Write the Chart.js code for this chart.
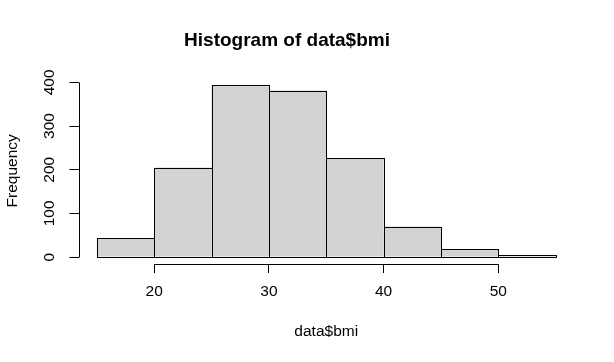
<!DOCTYPE html>
<html>
<head>
<meta charset="utf-8">
<style>
  html, body { margin: 0; padding: 0; background: #fff; }
  canvas { display: block; }
</style>
<script src="https://cdn.jsdelivr.net/npm/chart.js@4/dist/chart.umd.min.js"></script>
</head>
<body>
<canvas id="hist" width="614" height="362"></canvas>
<script>
// histogram of data$bmi, bins of width 5
const binEdges = [15, 20, 25, 30, 35, 40, 45, 50, 55];
const counts = [43, 205, 394, 381, 226, 70, 18, 4];
const xTicks = [20, 30, 40, 50];
const yTicks = [0, 100, 200, 300, 400];

const FONT = "'Liberation Sans', Arial, sans-serif";
const points = counts.map((c, i) => ({ x: (binEdges[i] + binEdges[i + 1]) / 2, y: c }));

const snap = (v) => Math.round(v) + 0.5;

// crisp 1px outlines round each bar, taken from the bar elements
const barOutline = {
  id: 'barOutline',
  afterDatasetsDraw(chart) {
    const ctx = chart.ctx;
    ctx.save();
    ctx.strokeStyle = '#000';
    ctx.lineWidth = 1;
    chart.getDatasetMeta(0).data.forEach(el => {
      const { x, y, base, width } = el.getProps(['x', 'y', 'base', 'width'], true);
      const l = snap(x - width / 2), r = snap(x + width / 2);
      const t = snap(y), b = snap(base);
      ctx.strokeRect(l, t, r - l, b - t);
    });
    ctx.restore();
  }
};

// R style axes: line only from first to last tick, rotated y labels
const rAxes = {
  id: 'rAxes',
  afterDraw(chart) {
    const ctx = chart.ctx;
    const xs = chart.scales.x, ys = chart.scales.y;
    const area = chart.chartArea;
    ctx.save();
    ctx.strokeStyle = '#000';
    ctx.lineWidth = 1;
    ctx.beginPath();
    const by = snap(area.bottom);
    ctx.moveTo(snap(xs.getPixelForValue(xTicks[0])), by);
    ctx.lineTo(snap(xs.getPixelForValue(xTicks[xTicks.length - 1])), by);
    const lx = snap(area.left);
    ctx.moveTo(lx, snap(ys.getPixelForValue(yTicks[0])));
    ctx.lineTo(lx, snap(ys.getPixelForValue(yTicks[yTicks.length - 1])));
    ctx.stroke();

    ctx.fillStyle = '#000';
    ctx.font = '15.5px ' + FONT;
    ctx.textAlign = 'center';
    ctx.textBaseline = 'middle';
    ys.ticks.forEach(t => {
      ctx.save();
      ctx.translate(50, ys.getPixelForValue(t.value));
      ctx.rotate(-Math.PI / 2);
      ctx.fillText(String(t.value), 0, 0);
      ctx.restore();
    });
    ctx.restore();
  }
};

new Chart(document.getElementById('hist'), {
  type: 'bar',
  data: {
    datasets: [{
      data: points,
      backgroundColor: '#d3d3d3',
      borderWidth: 0,
      barPercentage: 1,
      categoryPercentage: 1,
      inflateAmount: 0
    }]
  },
  options: {
    responsive: false,
    animation: false,
    devicePixelRatio: 1,
    layout: { padding: { left: 0, right: 40, top: 0, bottom: 0 } },
    plugins: {
      legend: { display: false },
      tooltip: { enabled: false },
      title: {
        display: true,
        text: 'Histogram of data$bmi',
        color: '#000',
        font: { family: FONT, size: 19, weight: 'bold' },
        padding: { top: 29.4, bottom: 25.4 }
      }
    },
    scales: {
      x: {
        type: 'linear',
        offset: false,
        min: 13.4,
        max: 56.6,
        afterBuildTicks: (s) => { s.ticks = xTicks.map(v => ({ value: v })); },
        afterFit: (s) => { s.height = 98; },
        border: { display: false },
        grid: { offset: false, drawOnChartArea: false, drawTicks: true, tickLength: 9, color: '#000', lineWidth: 1 },
        ticks: { color: '#000', font: { family: FONT, size: 15.5 }, padding: 9.5, maxRotation: 0, autoSkip: false },
        title: {
          display: true,
          text: 'data$bmi',
          color: '#000',
          font: { family: FONT, size: 15.5 },
          padding: { top: 0, bottom: 20.5 }
        }
      },
      y: {
        min: -15.8,
        max: 410.8,
        afterBuildTicks: (s) => { s.ticks = yTicks.map(v => ({ value: v })); },
        afterFit: (s) => { s.width = 78.5; },
        border: { display: false },
        grid: { drawOnChartArea: false, drawTicks: true, tickLength: 9, color: '#000', lineWidth: 1 },
        ticks: { display: false },
        title: {
          display: true,
          text: 'Frequency',
          color: '#000',
          font: { family: FONT, size: 15.5 },
          padding: { top: 3.7, bottom: 0 }
        }
      }
    }
  },
  plugins: [barOutline, rAxes]
});
</script>
</body>
</html>
